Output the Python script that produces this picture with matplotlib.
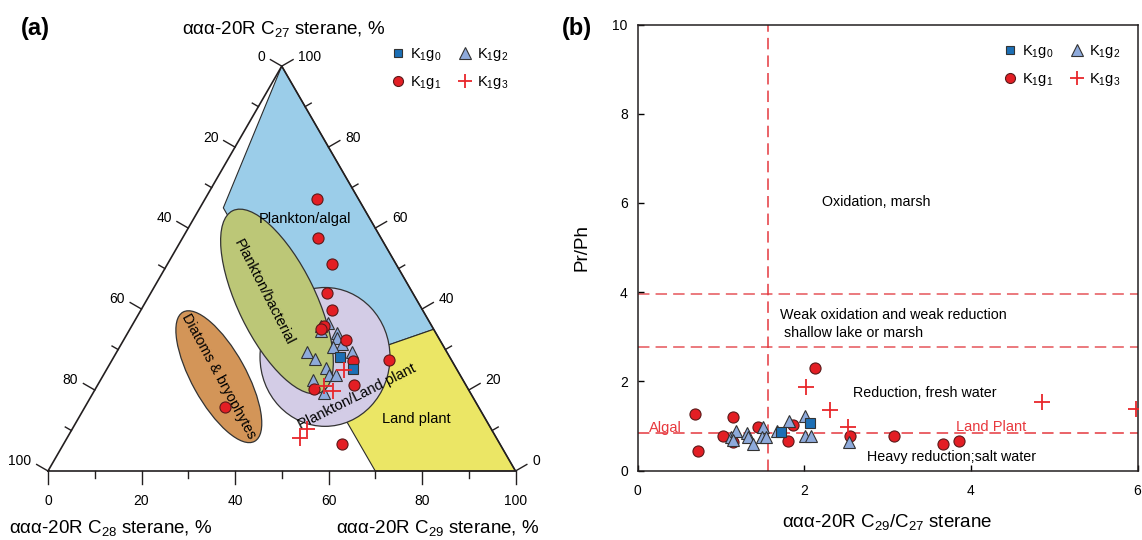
import numpy as np
import matplotlib.pyplot as plt
from matplotlib.patches import Ellipse, Polygon
from matplotlib.lines import Line2D

plt.rcParams['font.family'] = ['Liberation Sans', 'DejaVu Sans']
plt.rcParams['mathtext.fontset'] = 'custom'
plt.rcParams['mathtext.rm'] = 'Liberation Sans'
plt.rcParams['mathtext.it'] = 'Liberation Sans:italic'
plt.rcParams['mathtext.default'] = 'regular'

# ---------------- data (a): ternary, % C27 and % C29 (C28 = rest) ----------------
g0_c27 = [28.2, 25.1]
g0_c29 = [48.3, 52.7]
g1_c27 = [67.1, 57.5, 51.1, 43.9, 39.8, 35.8, 35.0, 32.4, 27.2, 27.4, 21.2, 20.3, 6.7, 15.9]
g1_c29 = [23.9, 28.9, 35.3, 37.8, 40.9, 41.1, 41.0, 47.5, 51.7, 59.3, 54.8, 46.8, 59.6, 30.0]
g2_c27 = [35.8, 36.5, 34.5, 34.2, 32.8, 31.4, 30.6, 29.5, 29.4, 27.7, 25.4, 23.7, 23.7, 22.4, 19.2]
g2_c29 = [40.6, 41.6, 41.1, 44.7, 45.4, 47.1, 45.7, 50.2, 40.6, 43.3, 46.8, 48.2, 49.8, 45.5, 49.5]
g3_c27 = [24.9, 20.9, 19.8, 10.3, 8.1]
g3_c29 = [50.9, 48.5, 51.0, 50.2, 49.9]

# source fields (C27, C29)
algal_zone = [(100, 0), (65, 5), (25, 45), (35, 65)]
land_zone = [(25, 45), (35, 65), (0, 100), (0, 70)]

# ---------------- data (b): C29/C27 vs Pr/Ph ----------------
b_g0_x = [1.72, 2.07]
b_g0_y = [0.87, 1.07]
b_g1_x = [0.69, 0.72, 1.02, 1.15, 1.15, 1.44, 1.81, 1.87, 2.13, 2.55, 3.08, 3.66, 3.86]
b_g1_y = [1.26, 0.44, 0.78, 1.21, 0.65, 0.98, 0.67, 1.02, 2.29, 0.77, 0.78, 0.59, 0.67]
b_g2_x = [1.12, 1.18, 1.31, 1.32, 1.38, 1.50, 1.49, 1.54, 1.67, 1.82, 2.01, 2.01, 2.08, 2.54, 1.14]
b_g2_y = [0.74, 0.89, 0.85, 0.74, 0.59, 0.98, 0.74, 0.76, 0.89, 1.12, 1.22, 0.77, 0.77, 0.65, 0.68]
b_g3_x = [2.02, 2.31, 2.53, 4.85, 5.98]
b_g3_y = [1.88, 1.36, 0.98, 1.54, 1.39]

labels = [r'K$_1$g$_0$', r'K$_1$g$_1$', r'K$_1$g$_2$', r'K$_1$g$_3$']

RED = '#e31e24'
EDGE = '#333333'
sty = {
    'g0': dict(marker='s', ms=7, mfc='#1c6fb5', mec=EDGE, mew=0.8, ls='none'),
    'g1': dict(marker='o', ms=8, mfc=RED, mec='#5a1a1a', mew=0.8, ls='none'),
    'g2': dict(marker='^', ms=9, mfc='#8eaadb', mec=EDGE, mew=0.8, ls='none'),
    'g3': dict(marker='+', ms=11, mec='#e8262b', mew=1.3, ls='none'),
}

s3 = np.sqrt(3)


def tern(c27, c29):
    c27 = np.asarray(c27, float)
    c29 = np.asarray(c29, float)
    return c29 + c27 / 2, c27 * s3 / 2


fig = plt.figure(figsize=(11.42, 5.4), dpi=100)

# ---------------- panel (a) ----------------
ax = fig.add_axes([0, 0, 571 / 1142, 1])
ax.set_xlim(-48 / 4.675, (571 - 48) / 4.675)
ax.set_ylim((471 - 540) / 4.675, 471 / 4.675)
ax.axis('off')

for zone, col in [(algal_zone, '#9bcde9'), (land_zone, '#ebe665')]:
    zx, zy = tern([p[0] for p in zone], [p[1] for p in zone])
    ax.add_patch(Polygon(np.column_stack([zx, zy]), closed=True, fc=col,
                         ec='#2b2b2b', lw=0.8, zorder=1))

ax.add_patch(Ellipse((59.25, 24.4), 27.8, 29.7, angle=0, fc='#d3cce6',
                     ec='#333333', lw=0.9, zorder=2))
ax.add_patch(Ellipse((48.98, 36.26), 43.2, 16.6, angle=-64, fc='#bcc777',
                     ec='#333333', lw=0.9, zorder=3))
ax.add_patch(Ellipse((36.54, 20.17), 31.6, 11.6, angle=-61, fc='#d39558',
                     ec='#333333', lw=0.9, zorder=3))

# triangle frame
ax.plot([0, 100, 50, 0], [0, 0, 50 * s3, 0], color='#231f20', lw=1.2, zorder=4,
        solid_joinstyle='miter')

nl = np.array([-s3 / 2, 0.5])
nr = np.array([s3 / 2, 0.5])
for v in range(0, 101, 10):
    L = 2.8 if v % 20 == 0 else 1.5
    pl = np.array([50 * (1 - v / 100), 50 * s3 * (1 - v / 100)])
    pr = np.array([100 - v / 2, 50 * s3 * v / 100])
    pb = np.array([v, 0.0])
    for p, n in [(pl, nl), (pr, nr), (pb, np.array([0, -1.0]))]:
        ax.plot([p[0], p[0] + n[0] * L], [p[1], p[1] + n[1] * L],
                color='#231f20', lw=1.0, zorder=4)
    if v % 20 == 0:
        q = pl + nl * 4.1
        ax.text(q[0], q[1], str(v), ha='right', va='center', fontsize=10)
        q = pr + nr * 4.1
        ax.text(q[0], q[1], str(v), ha='left', va='center', fontsize=10)
        ax.text(v, -6.4, str(v), ha='center', va='center', fontsize=10)

ax.text(50.5, 94.6, r'ααα-20R C$_{27}$ sterane, %', ha='center', va='center', fontsize=13.5)
ax.text(13.3, -12.2, r'ααα-20R C$_{28}$ sterane, %', ha='center', va='center', fontsize=13.5)
ax.text(83.4, -12.2, r'ααα-20R C$_{29}$ sterane, %', ha='center', va='center', fontsize=13.5)

ax.text(55.0, 54.0, 'Plankton/algal', ha='center', va='center', fontsize=10.5, zorder=5)
ax.text(46.2, 38.3, 'Plankton/bacterial', ha='center', va='center', fontsize=10.5,
        rotation=-63, rotation_mode='anchor', zorder=5)
ax.text(36.5, 20.2, 'Diatoms & bryophytes', ha='center', va='center', fontsize=10.3,
        rotation=-61.4, rotation_mode='anchor', zorder=5)
ax.text(66.0, 15.9, 'Plankton/Land plant', ha='center', va='center', fontsize=10.5,
        rotation=26.6, rotation_mode='anchor', zorder=5)
ax.text(78.8, 11.1, 'Land plant', ha='center', va='center', fontsize=10.5, zorder=5)

x, y = tern(g2_c27, g2_c29)
ax.plot(x, y, zorder=6, **sty['g2'])
x, y = tern(g1_c27, g1_c29)
ax.plot(x, y, zorder=7, **sty['g1'])
x, y = tern(g0_c27, g0_c29)
ax.plot(x, y, zorder=8, **sty['g0'])
x, y = tern(g3_c27, g3_c29)
ax.plot(x, y, zorder=9, **sty['g3'])

fig.text(35 / 1142, 1 - 28 / 540, '(a)', fontsize=17, fontweight='bold', ha='center', va='center')
fig.text(577 / 1142, 1 - 28 / 540, '(b)', fontsize=17, fontweight='bold', ha='center', va='center')

handles = [Line2D([], [], **sty['g0']), Line2D([], [], **sty['g1']),
           Line2D([], [], **sty['g2']), Line2D([], [], **sty['g3'])]
leg_kw = dict(ncol=2, loc='upper left', frameon=False, fontsize=10.5, handlelength=0.9,
              handletextpad=0.4, columnspacing=1.1, labelspacing=0.75, borderpad=0,
              borderaxespad=0, markerscale=0.9)
fig.legend(handles, labels, bbox_to_anchor=(391.5 / 1142, 1 - 46 / 540), **leg_kw)
fig.legend(handles, labels, bbox_to_anchor=(1003.5 / 1142, 1 - 43 / 540), **leg_kw)

# ---------------- panel (b) ----------------
axb = fig.add_axes([637.5 / 1142, (540 - 470.5) / 540, 500 / 1142, 446 / 540])
axb.set_xlim(0, 6)
axb.set_ylim(0, 10)
axb.set_xticks([0, 2, 4, 6])
axb.set_yticks([0, 2, 4, 6, 8, 10])
axb.tick_params(direction='in', length=4, width=1, labelsize=10)
axb.tick_params(axis='x', pad=10)
axb.tick_params(axis='y', pad=7)
for sp in axb.spines.values():
    sp.set_color('#231f20')
    sp.set_linewidth(1.1)

dash = (0, (7.5, 4))
axb.axhline(3.95, color='#e6555a', lw=1.1, ls=dash, zorder=1)
axb.axhline(2.77, color='#e6555a', lw=1.1, ls=dash, zorder=1)
axb.axhline(0.83, color='#e4383e', lw=1.1, ls=dash, zorder=1)
axb.axvline(1.57, color='#e4383e', lw=1.1, ls=dash, zorder=1)

axb.text(2.87, 6.02, 'Oxidation, marsh', ha='center', va='center', fontsize=10.3)
axb.text(1.71, 3.49, 'Weak oxidation and weak reduction', ha='left', va='center', fontsize=10.3)
axb.text(1.76, 3.08, 'shallow lake or marsh', ha='left', va='center', fontsize=10.3)
axb.text(2.59, 1.73, 'Reduction, fresh water', ha='left', va='center', fontsize=10.3)
axb.text(2.75, 0.31, 'Heavy reduction;salt water', ha='left', va='center', fontsize=10.3)
axb.text(0.14, 0.96, 'Algal', ha='left', va='center', fontsize=10.5, color='#e8383d')
axb.text(3.82, 0.98, 'Land Plant', ha='left', va='center', fontsize=10.5, color='#e8383d')

axb.plot(b_g1_x, b_g1_y, zorder=5, **sty['g1'])
axb.plot(b_g2_x, b_g2_y, zorder=6, **sty['g2'])
axb.plot(b_g0_x, b_g0_y, zorder=7, **sty['g0'])
axb.plot(b_g3_x, b_g3_y, zorder=8, **sty['g3'])

axb.set_xlabel(r'ααα-20R C$_{29}$/C$_{27}$ sterane', fontsize=13.5)
axb.set_ylabel('Pr/Ph', fontsize=13.5)
axb.xaxis.set_label_coords(0.5, -0.093)
axb.yaxis.set_label_coords(-0.095, 0.5)

fig.savefig('out.png', dpi=100)
